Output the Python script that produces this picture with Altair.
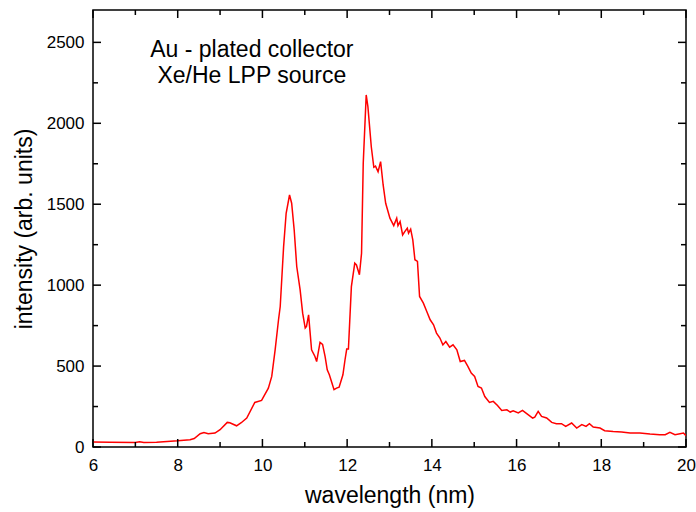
import altair as alt
import pandas as pd

# spectrum
wavelength = [6.00, 6.40, 7.00, 7.10, 7.20, 7.50, 8.00, 8.29, 8.39, 8.53, 8.62, 8.72, 8.88, 9.00,
              9.17, 9.23, 9.39, 9.50, 9.63, 9.82, 9.98, 10.14, 10.22, 10.30, 10.38, 10.42, 10.50,
              10.56, 10.64, 10.69, 10.75, 10.81, 10.89, 10.95, 11.01, 11.04, 11.09, 11.12, 11.16,
              11.24, 11.28, 11.36, 11.42, 11.48, 11.53, 11.58, 11.63, 11.69, 11.75, 11.81, 11.90,
              11.95, 11.99, 12.03, 12.10, 12.18, 12.22, 12.29, 12.34, 12.38, 12.45, 12.49, 12.57,
              12.63, 12.67, 12.73, 12.79, 12.85, 12.91, 13.01, 13.10, 13.17, 13.20, 13.25, 13.31,
              13.36, 13.42, 13.45, 13.50, 13.55, 13.60, 13.66, 13.71, 13.80, 13.88, 13.96, 14.04,
              14.11, 14.19, 14.26, 14.33, 14.42, 14.50, 14.59, 14.67, 14.77, 14.85, 14.93, 15.01,
              15.09, 15.17, 15.25, 15.36, 15.45, 15.55, 15.65, 15.77, 15.85, 15.92, 16.04, 16.14,
              16.24, 16.38, 16.43, 16.51, 16.59, 16.71, 16.83, 16.94, 17.06, 17.16, 17.30, 17.42,
              17.54, 17.64, 17.72, 17.81, 17.97, 18.08, 18.28, 18.48, 18.68, 18.91, 19.15, 19.38,
              19.51, 19.62, 19.74, 19.86, 19.94, 20.00]
intensity = [31, 30, 28, 33, 28, 30, 38, 45, 52, 82, 90, 82, 86, 107,
             152, 150, 131, 150, 179, 275, 288, 364, 436, 600, 786, 868, 1238,
             1444, 1557, 1506, 1341, 1115, 971, 827, 735, 745, 817, 724, 600,
             559, 528, 646, 634, 559, 477, 446, 405, 354, 364, 370, 446,
             539, 605, 605, 991, 1136, 1125, 1064, 1197, 1753, 2175, 2103, 1855,
             1728, 1735, 1701, 1763, 1619, 1506, 1414, 1368, 1414, 1368, 1393, 1310,
             1331, 1352, 1321, 1346, 1280, 1157, 1147, 930, 889, 837, 786, 755,
             704, 673, 631, 652, 617, 631, 601, 528, 535, 498, 457, 436,
             374, 364, 312, 275, 282, 257, 226, 230, 216, 224, 210, 226,
             206, 179, 185, 220, 189, 179, 152, 144, 144, 127, 148, 117,
             138, 127, 144, 123, 117, 101, 96, 93, 86, 86, 80, 76,
             76, 90, 76, 82, 86, 70]

x_major = [6, 8, 10, 12, 14, 16, 18, 20]
x_minor = [7, 9, 11, 13, 15, 17, 19]
y_major = [0, 500, 1000, 1500, 2000, 2500]
y_minor = [250, 750, 1250, 1750, 2250]

note_text = ["Au - plated collector", "Xe/He LPP source"]
note_x = [9.75, 9.75]
note_y = [2411, 2247]

X_TITLE = "wavelength (nm)"
Y_TITLE = "intensity (arb. units)"

W, H = 593, 437
FONT = "Liberation Sans"

xs = alt.Scale(domain=[6, 20], nice=False, zero=False)
ys = alt.Scale(domain=[0, 2700], nice=False)

df = pd.DataFrame({"wl": wavelength, "inten": intensity})

line = alt.Chart(df).mark_line(color="#ff0000", strokeWidth=1.5, clip=True).encode(
    x=alt.X("wl:Q", scale=xs, title=X_TITLE,
            axis=alt.Axis(values=x_major, tickSize=0, domain=False, grid=False,
                          labelFlush=False, format="d",
                          labelPadding=10, labelFontSize=17, titleFontSize=23,
                          titleFontWeight="normal", titlePadding=11, labelFont=FONT,
                          titleFont=FONT, labelColor="black", titleColor="black")),
    y=alt.Y("inten:Q", scale=ys, title=Y_TITLE,
            axis=alt.Axis(values=y_major, tickSize=0, domain=False, grid=False,
                          labelFlush=False, format="d",
                          labelPadding=9, labelFontSize=17, titleFontSize=23,
                          titleFontWeight="normal", titlePadding=10, labelFont=FONT,
                          titleFont=FONT, labelColor="black", titleColor="black")),
)

def xticks(vals, length):
    d = pd.DataFrame({"v": vals})
    base = alt.Chart(d).mark_rule(color="black", strokeWidth=1.5)
    bottom = base.encode(x=alt.X("v:Q", scale=xs, title=X_TITLE),
                         y=alt.value(H), y2=alt.value(H - length))
    top = base.encode(x=alt.X("v:Q", scale=xs, title=X_TITLE),
                      y=alt.value(0), y2=alt.value(length))
    return [bottom, top]

def yticks(vals, length):
    d = pd.DataFrame({"v": vals})
    base = alt.Chart(d).mark_rule(color="black", strokeWidth=1.5)
    left = base.encode(y=alt.Y("v:Q", scale=ys, title=Y_TITLE),
                       x=alt.value(0), x2=alt.value(length))
    right = base.encode(y=alt.Y("v:Q", scale=ys, title=Y_TITLE),
                        x=alt.value(W), x2=alt.value(W - length))
    return [left, right]

notes = alt.Chart(pd.DataFrame({"t": note_text, "x": note_x, "y": note_y})).mark_text(
    font=FONT, fontSize=23, align="center", baseline="alphabetic", color="black"
).encode(
    x=alt.X("x:Q", scale=xs, title=X_TITLE),
    y=alt.Y("y:Q", scale=ys, title=Y_TITLE),
    text="t:N",
)

layers = [line] + xticks(x_major, 8) + xticks(x_minor, 5) + yticks(y_major, 8) + yticks(y_minor, 5) + [notes]

chart = alt.layer(*layers).properties(
    width=W, height=H,
    autosize=alt.AutoSizeParams(type="none"),
    padding={"left": 93, "top": 10, "right": 10, "bottom": 65},
    background="white",
).configure_view(stroke="black", strokeWidth=1.5)

chart.save("out.html", embed_options={"renderer": "svg", "actions": False})
